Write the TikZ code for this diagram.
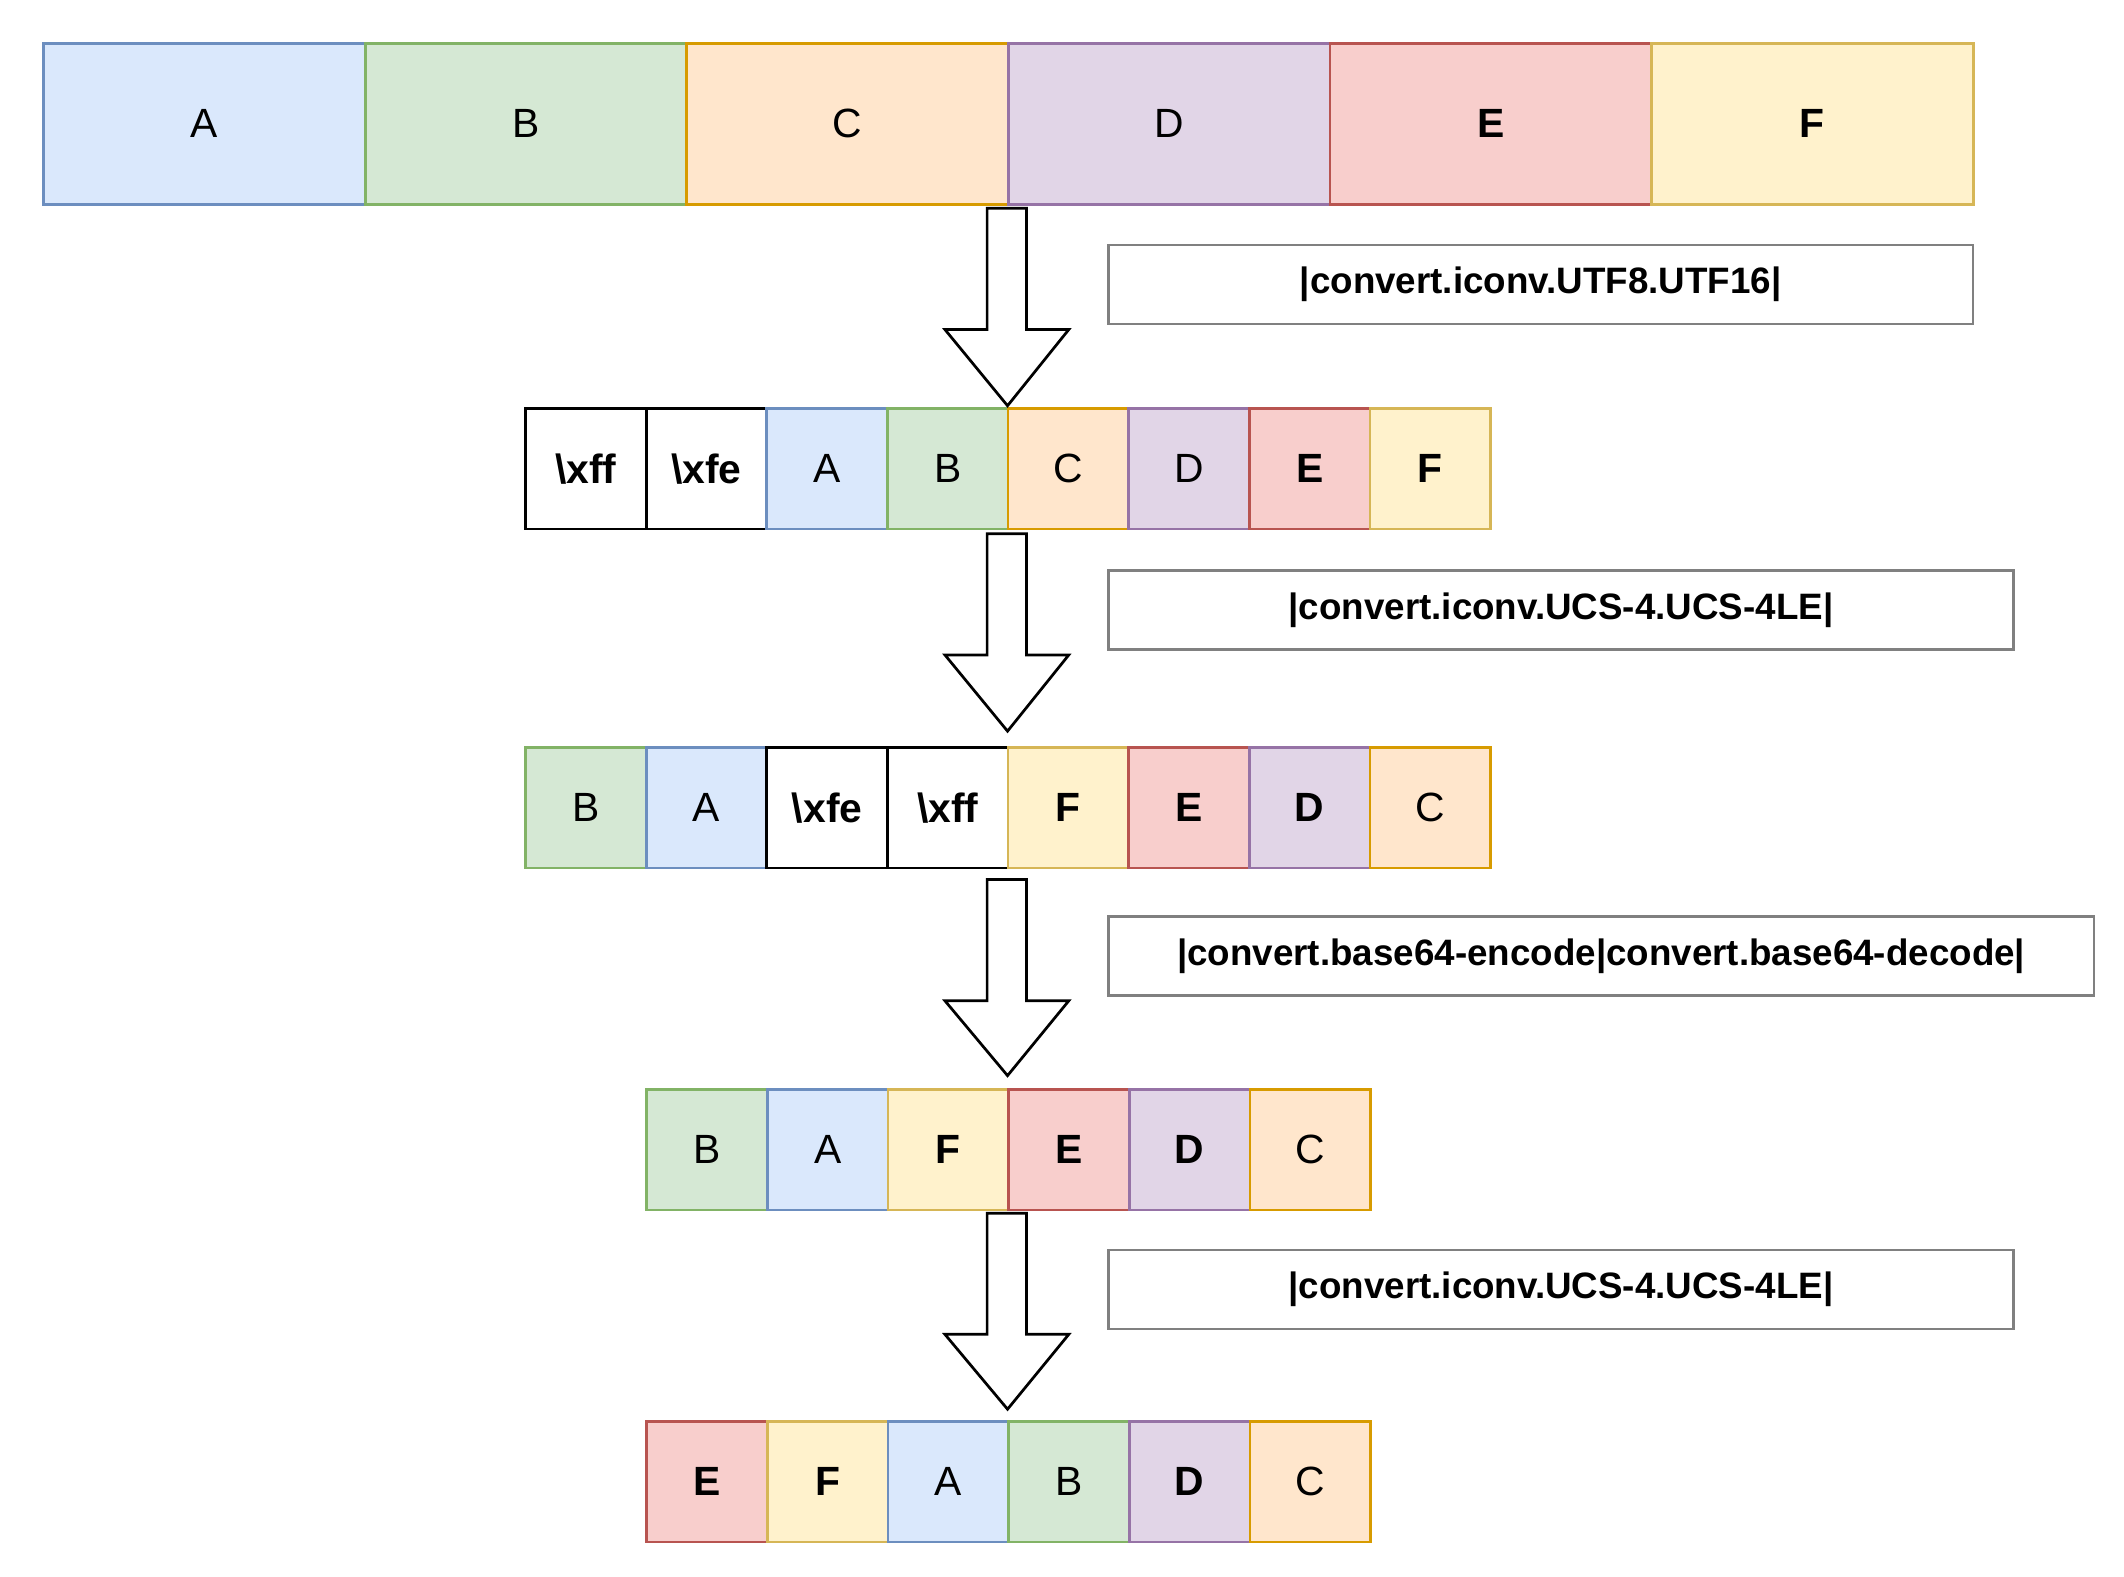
\documentclass[tikz,border=0pt]{standalone}
\usepackage{fontspec}
\setmainfont{Liberation Sans}
\definecolor{bF}{HTML}{DAE8FC}\definecolor{bS}{HTML}{6C8EBF}
\definecolor{gF}{HTML}{D5E8D4}\definecolor{gS}{HTML}{82B366}
\definecolor{oF}{HTML}{FFE6CC}\definecolor{oS}{HTML}{D79B00}
\definecolor{pF}{HTML}{E1D5E7}\definecolor{pS}{HTML}{9673A6}
\definecolor{rF}{HTML}{F8CECC}\definecolor{rS}{HTML}{B85450}
\definecolor{yF}{HTML}{FFF2CC}\definecolor{yS}{HTML}{D6B656}
\tikzset{
 cell/.style={anchor=north west,inner sep=0,line width=1pt,font=\fontsize{15}{18}\selectfont},
 blu/.style={fill=bF,draw=bS},grn/.style={fill=gF,draw=gS},org/.style={fill=oF,draw=oS},
 pur/.style={fill=pF,draw=pS},red/.style={fill=rF,draw=rS},yel/.style={fill=yF,draw=yS},
 blk/.style={fill=white,draw=black},
 lbl/.style={draw=gray,line width=1pt,inner sep=0,font=\bfseries\fontsize{13.5}{16}\selectfont},
 barrow/.style={draw=black,fill=white,line width=1pt,line join=miter}
}
\begin{document}
\begin{tikzpicture}[x=0.5pt,y=-0.5pt]
\useasboundingbox (0,0) rectangle (1560,1158);
\foreach \s/\t [count=\i] in {blu/A,grn/B,org/C,pur/D,red/{\textbf{E}},yel/{\textbf{F}}}
 \node[cell,\s,minimum width=118.1pt,minimum height=59pt] (ra\i) at ({31+(\i-1)*236.2},31) {\t};
\foreach \s/\t [count=\i] in {blk/{\textbf{\textbackslash xff}},blk/{\textbf{\textbackslash xfe}},blu/A,grn/B,org/C,pur/D,red/{\textbf{E}},yel/{\textbf{F}}}
 \node[cell,\s,minimum width=44.3pt,minimum height=44.3pt] (rb\i) at ({385+(\i-1)*88.6},299) {\t};
\foreach \s/\t [count=\i] in {grn/B,blu/A,blk/{\textbf{\textbackslash xfe}},blk/{\textbf{\textbackslash xff}},yel/{\textbf{F}},red/{\textbf{E}},pur/{\textbf{D}},org/C}
 \node[cell,\s,minimum width=44.3pt,minimum height=44.3pt] (rc\i) at ({385+(\i-1)*88.6},548) {\t};
\foreach \s/\t [count=\i] in {grn/B,blu/A,yel/{\textbf{F}},red/{\textbf{E}},pur/{\textbf{D}},org/C}
 \node[cell,\s,minimum width=44.3pt,minimum height=44.3pt] (rd\i) at ({474+(\i-1)*88.6},799) {\t};
\foreach \s/\t [count=\i] in {red/{\textbf{E}},yel/{\textbf{F}},blu/A,grn/B,pur/{\textbf{D}},org/C}
 \node[cell,\s,minimum width=44.3pt,minimum height=44.3pt] (re\i) at ({474+(\i-1)*88.6},1043) {\t};
% arrows
\foreach \a/\b/\c in {153/242/298,392/481/537,646/735/790,891/980/1035}
 \draw[barrow] (725,\a) -- (754,\a) -- (754,\b) -- (785,\b) -- (740,\c) -- (694,\b) -- (725,\b) -- cycle;
% labels
\node[lbl,minimum width=317.5pt,minimum height=29pt,anchor=north west] (l1) at (813,179) {|convert.iconv.UTF8.UTF16|};
\node[lbl,minimum width=332.5pt,minimum height=29pt,anchor=north west] (l2) at (813,418) {|convert.iconv.UCS-4.UCS-4LE|};
\node[lbl,minimum width=362pt,minimum height=29pt,anchor=north west] (l3) at (813,672) {|convert.base64-encode|convert.base64-decode|};
\node[lbl,minimum width=332.5pt,minimum height=29pt,anchor=north west] (l4) at (813,917) {|convert.iconv.UCS-4.UCS-4LE|};
\end{tikzpicture}
\end{document}
